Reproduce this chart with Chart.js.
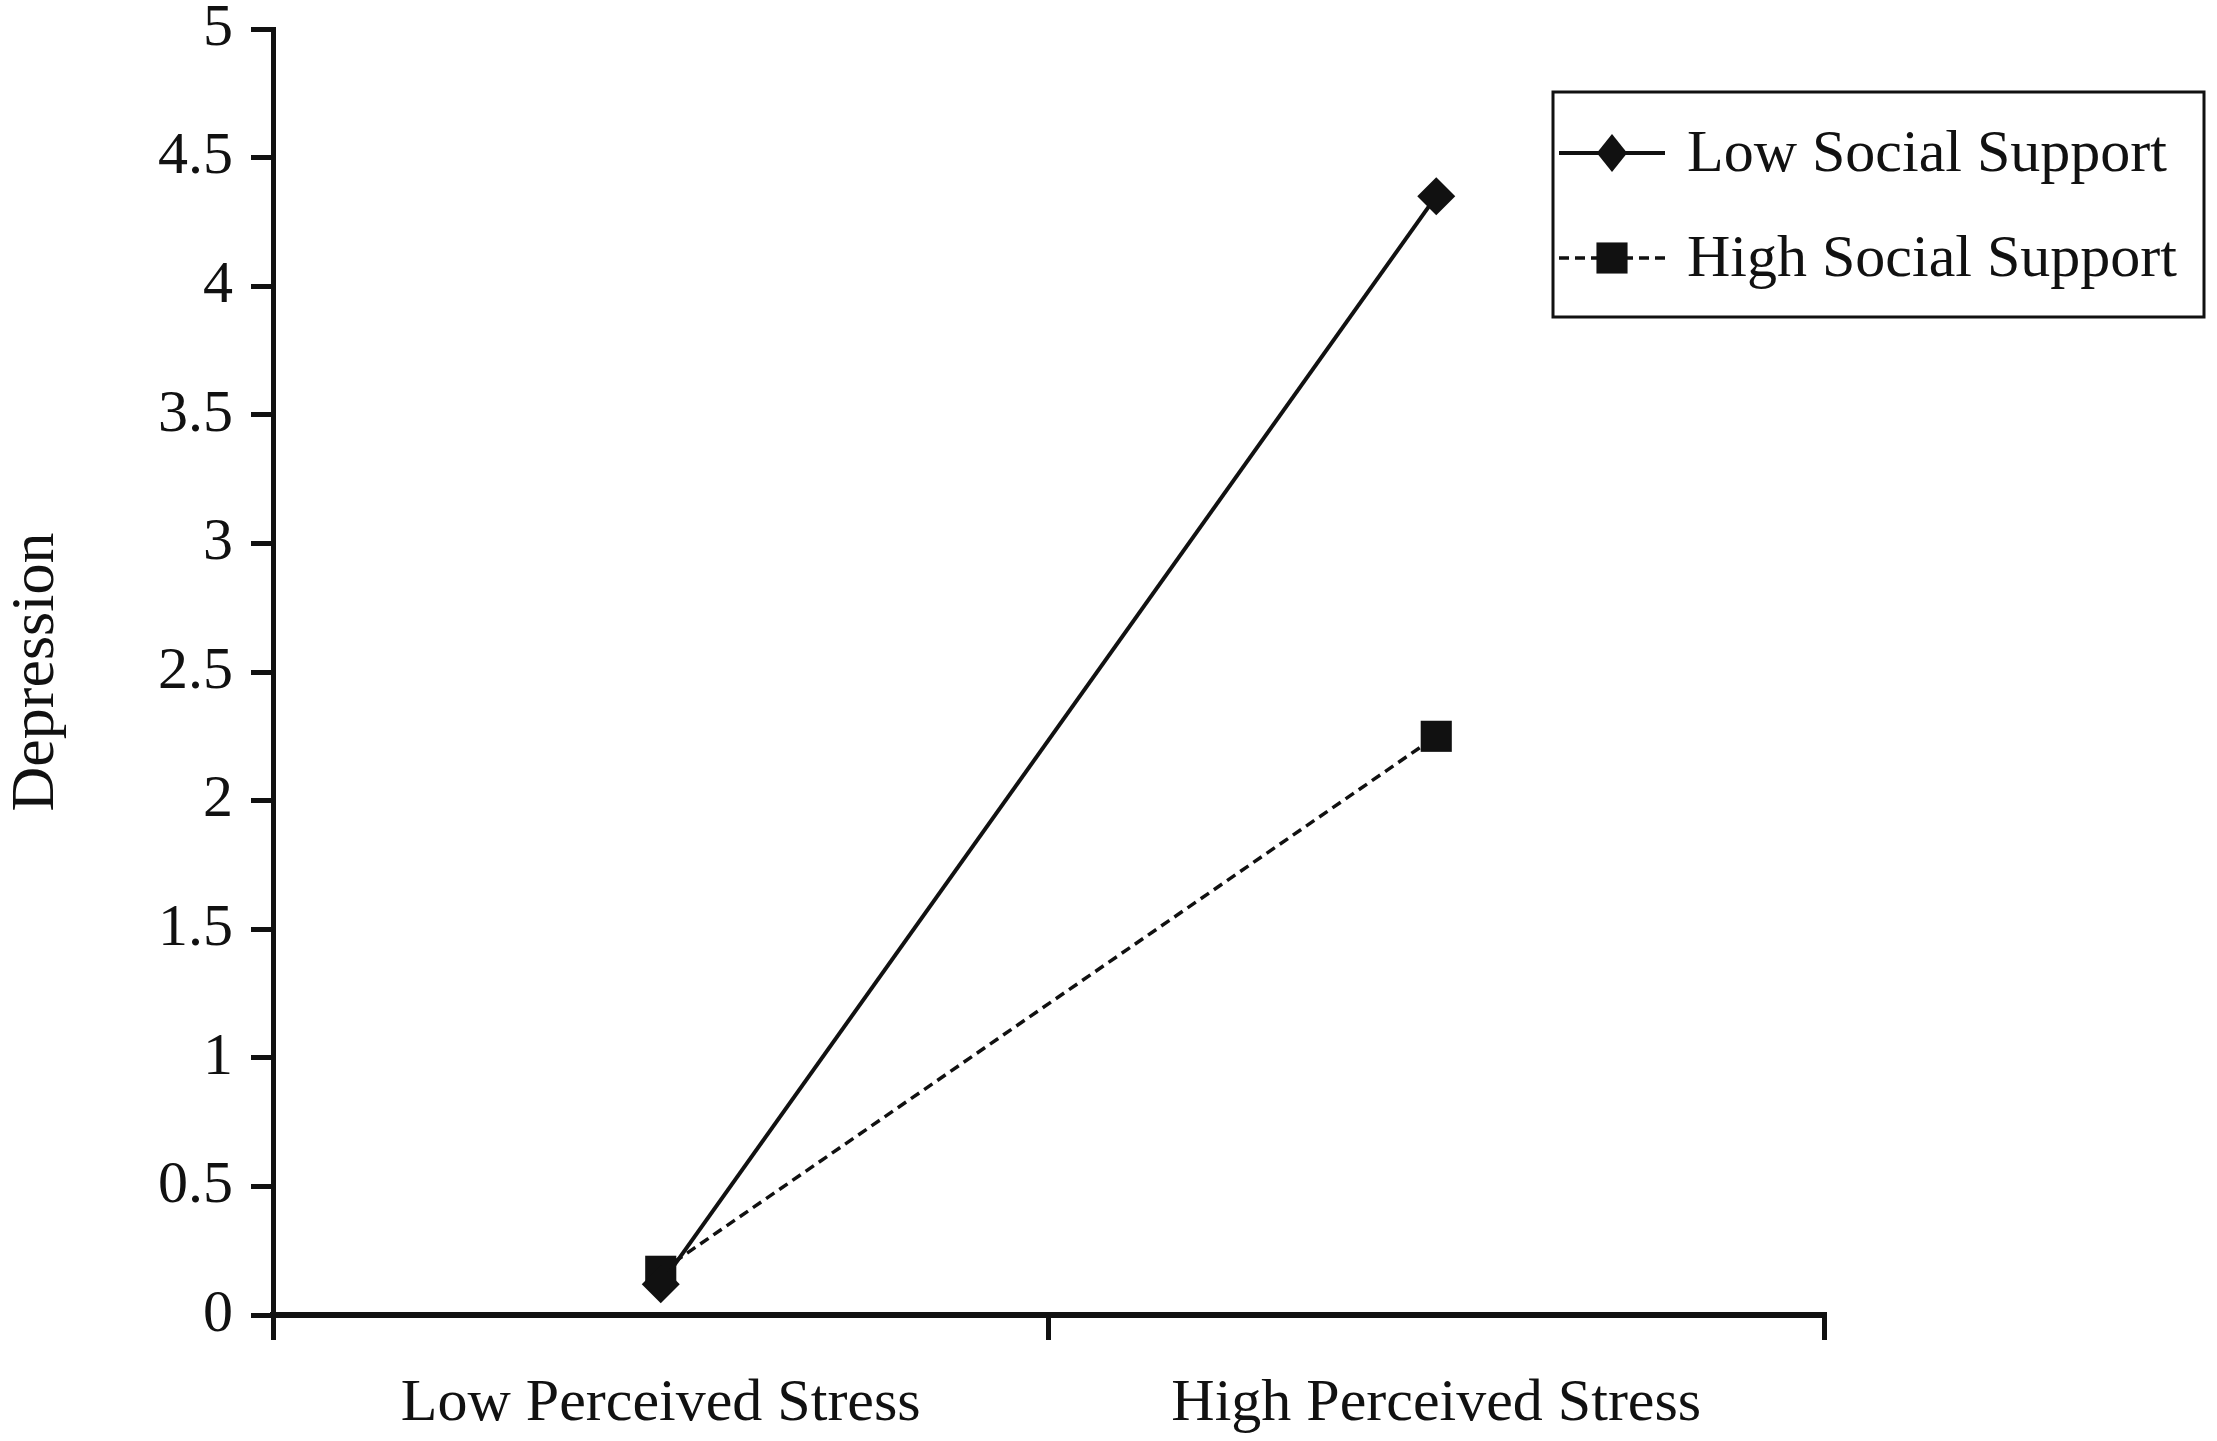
<!DOCTYPE html>
<html>
<head>
<meta charset="utf-8">
<script src="https://cdn.jsdelivr.net/npm/chart.js@4.4.0/dist/chart.umd.min.js"></script>
<style>
    html, body { margin: 0; padding: 0; background: #fff; }
    #wrap { width: 2217px; height: 1441px; position: relative; }
</style>
</head>
<body>
<div id="wrap"><canvas id="lineChart"></canvas></div>
<script>
// Datos
const categories = ["Low Perceived Stress", "High Perceived Stress"];
const lowSupport = [0.12, 4.35];
const highSupport = [0.17, 2.25];
const seriesNames = ["Low Social Support", "High Social Support"];
const yTicks = [0, 0.5, 1, 1.5, 2, 2.5, 3, 3.5, 4, 4.5, 5];

const serif = "'Liberation Serif', 'Times New Roman', serif";
const ink = "#111";

// Leyenda con recuadro, dibujada encima del área del gráfico
const boxLegend = {
    id: "boxLegend",
    afterDraw(chart) {
        const ctx = chart.ctx;
        const x0 = 1553, y0 = 92, x1 = 2204, y1 = 317;
        ctx.save();
        ctx.fillStyle = "#fff";
        ctx.fillRect(x0, y0, x1 - x0, y1 - y0);
        ctx.strokeStyle = ink;
        ctx.lineWidth = 3;
        ctx.strokeRect(x0, y0, x1 - x0, y1 - y0);

        const rows = [153, 258];
        chart.data.datasets.forEach((ds, i) => {
            const y = rows[i];
            ctx.strokeStyle = ds.borderColor;
            ctx.lineWidth = ds.borderWidth;
            ctx.setLineDash(ds.borderDash || []);
            ctx.beginPath();
            ctx.moveTo(1559, y);
            ctx.lineTo(1665, y);
            ctx.stroke();
            ctx.setLineDash([]);

            // marcador
            const cx = 1612, r = ds.pointRadius;
            ctx.fillStyle = ds.pointBackgroundColor;
            ctx.beginPath();
            if (ds.pointStyle === "rectRot") {
                ctx.moveTo(cx, y - r);
                ctx.lineTo(cx + r * 0.8, y);
                ctx.lineTo(cx, y + r);
                ctx.lineTo(cx - r * 0.8, y);
                ctx.closePath();
            } else {
                const h = r * Math.SQRT1_2;
                ctx.rect(cx - h, y - h, 2 * h, 2 * h);
            }
            ctx.fill();

            ctx.fillStyle = ink;
            ctx.font = "60px " + serif;
            ctx.textAlign = "left";
            ctx.textBaseline = "middle";
            ctx.fillText(ds.label, 1687, y + 2);
        });
        ctx.restore();
    },
};

const ctx = document.getElementById("lineChart").getContext("2d");
new Chart(ctx, {
    type: "line",
    data: {
        labels: categories,
        datasets: [
            {
                label: seriesNames[0],
                data: lowSupport,
                borderColor: ink,
                borderWidth: 4,
                pointStyle: "rectRot",
                pointRadius: 19,
                pointBackgroundColor: ink,
                pointBorderColor: ink,
                pointBorderWidth: 0,
                tension: 0,
            },
            {
                label: seriesNames[1],
                data: highSupport,
                borderColor: ink,
                borderWidth: 3.5,
                borderDash: [10, 6],
                pointStyle: "rect",
                pointRadius: 22,
                pointBackgroundColor: ink,
                pointBorderColor: ink,
                pointBorderWidth: 0,
                tension: 0,
            },
        ],
    },
    options: {
        responsive: true,
        maintainAspectRatio: false,
        animation: false,
        devicePixelRatio: 1,
        layout: { padding: { top: 29, right: 393, bottom: 0, left: 0 } },
        plugins: {
            legend: { display: false },
            tooltip: { enabled: false },
        },
        scales: {
            x: {
                offset: true,
                grid: {
                    offset: true,
                    drawOnChartArea: false,
                    drawTicks: true,
                    tickLength: 25,
                    color: ink,
                    lineWidth: 5,
                },
                border: { display: true, color: ink, width: 6 },
                ticks: {
                    color: ink,
                    font: { family: serif, size: 60 },
                    padding: 28,
                    maxRotation: 0,
                },
                afterFit: (scale) => {
                    scale.height = 126;
                },
            },
            y: {
                min: 0,
                max: 5,
                afterBuildTicks: (scale) => {
                    scale.ticks = yTicks.map((v) => ({ value: v }));
                },
                grid: {
                    drawOnChartArea: false,
                    drawTicks: true,
                    tickLength: 22,
                    color: ink,
                    lineWidth: 5,
                },
                border: { display: true, color: ink, width: 5 },
                ticks: {
                    color: ink,
                    font: { family: serif, size: 60 },
                    padding: 18,
                    callback: (value) => String(value),
                },
                title: {
                    display: true,
                    text: "Depression",
                    color: ink,
                    font: { family: serif, size: 62 },
                    padding: 0,
                },
                afterFit: (scale) => {
                    scale.width = 273;
                    // el "5" puede sobresalir por arriba como en el original
                    scale.paddingTop = 0;
                    scale.paddingBottom = 0;
                },
            },
        },
    },
    plugins: [boxLegend],
});
</script>
</body>
</html>
